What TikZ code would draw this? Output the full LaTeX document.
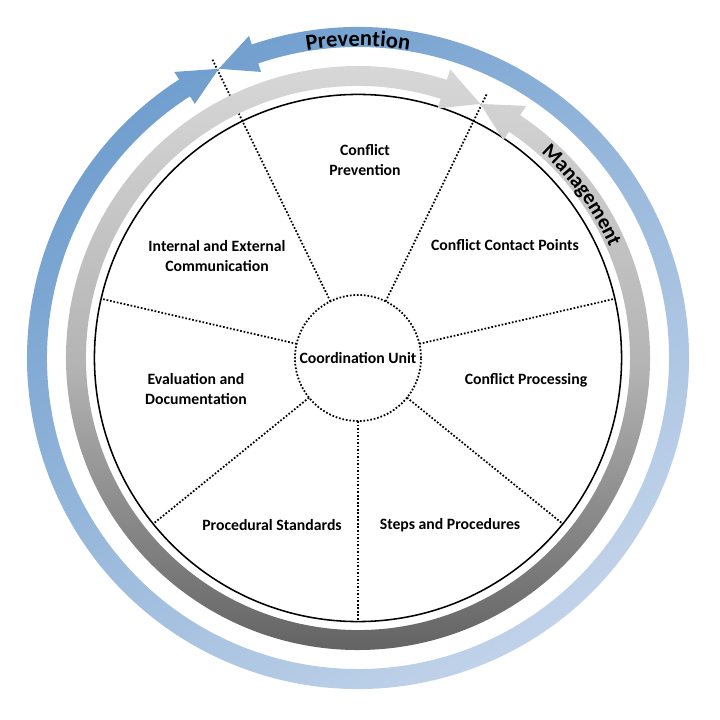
\documentclass[tikz,border=0pt]{standalone}
\usepackage{fontspec}
\setmainfont{Carlito}
\usepackage{tikz}
\usetikzlibrary{positioning,calc,decorations.text}
\definecolor{deepblue}{RGB}{108, 156, 205}
\definecolor{paleblue}{RGB}{198, 214, 235}
\definecolor{lightsilver}{RGB}{218, 218, 218}
\definecolor{midsilver}{RGB}{180, 180, 180}
\definecolor{darksilver}{RGB}{88, 88, 88}

\tikzset{
  seg/.style={line width=1.25pt, dash pattern=on 1.2pt off 1.3pt},
  lbl/.style={font=\fontsize{11.2}{14}\selectfont\bfseries, align=center},
}

\begin{document}
\begin{tikzpicture}[x=0.025cm,y=0.025cm]
    \useasboundingbox (-358,-362) rectangle (362,358);
    \node[circle,draw,line width=1.1pt,minimum size=13.175cm,inner sep=0pt,outer sep=0pt] (rim) at (0,0) {};
    \node[circle,draw,seg,lbl,minimum size=3.15cm,inner sep=0pt,outer sep=0pt] (hub) at (0,0) {Coordination Unit};
    \coordinate (pvend) at (116:333);
    \coordinate (mgend) at (64:294);
    \foreach \a in {270,321,13,167,219}
        \draw[seg] (hub.\a) -- (rim.\a);
    \draw[seg] (hub.116) -- (pvend);
    \draw[seg] (hub.64) -- (mgend);
    \shade[top color=deepblue,bottom color=paleblue,shading angle=35]
        (115.71:321) -- (108.71:340) -- (108.71:331)
        arc[start angle=108.71,end angle=-237.29,radius=331]
        -- (-237.29:340) -- (115.71:321) -- (-237.29:302) -- (-237.29:311)
        arc[start angle=-237.29,end angle=108.71,radius=311]
        -- (108.71:302) -- cycle;
    \shade[top color=lightsilver,bottom color=darksilver,middle color=midsilver]
        (64.29:282) -- (56.29:303) -- (56.29:292)
        arc[start angle=56.29,end angle=-287.71,radius=292]
        -- (-287.71:303) -- (64.29:282) -- (-287.71:262) -- (-287.71:272)
        arc[start angle=-287.71,end angle=56.29,radius=272]
        -- (56.29:262) -- cycle;
    \path[decorate,decoration={text along path,text align=center,
        text={|\fontsize{16}{16}\selectfont\bfseries|Prevention}}]
        (120:312) arc[start angle=120,end angle=60,radius=312];
    \path[decorate,decoration={text along path,text align=center,
        text={|\fontsize{15}{15}\selectfont\bfseries|Management}}]
        (60:275) arc[start angle=60,end angle=12,radius=275];
    \node[lbl] (cprev) at (7,198) {Conflict\\Prevention};
    \node[lbl] (ccontact) at (147,113) {Conflict Contact Points};
    \node[lbl] (intext) at (-141,102) {Internal and External\\Communication};
    \node[lbl] (evaldoc) at (-162,-31) {Evaluation and\\Documentation};
    \node[lbl] (cproc) at (168,-22) {Conflict Processing};
    \node[lbl] (procstd) at (-86,-167) {Procedural Standards};
    \node[lbl] (steps) at (92,-167) {Steps and Procedures};
\end{tikzpicture}
\end{document}
